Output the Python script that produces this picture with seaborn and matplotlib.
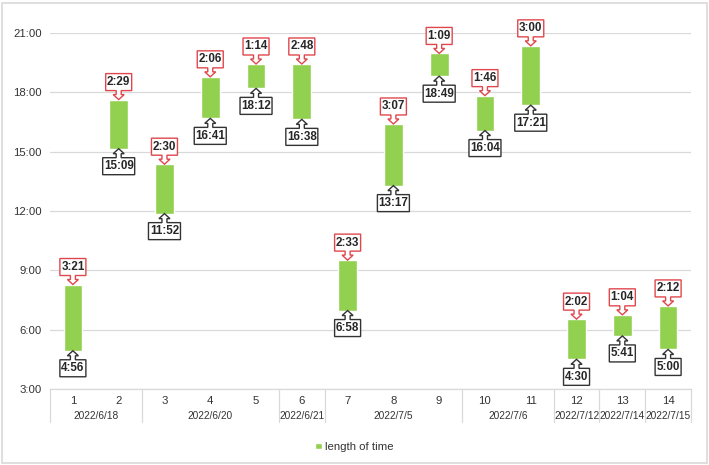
import matplotlib
matplotlib.use("Agg")
import numpy as np
import pandas as pd
import matplotlib.pyplot as plt
import matplotlib.transforms as mtransforms
from matplotlib.patches import Polygon, Patch, Rectangle
from matplotlib.ticker import FuncFormatter
import seaborn as sns

# ---------------------- DATA ----------------------
items = [str(i) for i in range(1, 15)]
start_times = ["4:56", "15:09", "11:52", "16:41", "18:12", "16:38", "6:58",
               "13:17", "18:49", "16:04", "17:21", "4:30", "5:41", "5:00"]
durations = ["3:21", "2:29", "2:30", "2:06", "1:14", "2:48", "2:33",
             "3:07", "1:09", "1:46", "3:00", "2:02", "1:04", "2:12"]
# date groups: (label, first item index, last item index)
date_groups = [("2022/6/18", 0, 1), ("2022/6/20", 2, 4), ("2022/6/21", 5, 5),
               ("2022/7/5", 6, 8), ("2022/7/6", 9, 10), ("2022/7/12", 11, 11),
               ("2022/7/14", 12, 12), ("2022/7/15", 13, 13)]
# --------------------------------------------------


def to_hours(s):
    h, m = s.split(":")
    return int(h) + int(m) / 60


df = pd.DataFrame({
    "item": items,
    "start": [to_hours(s) for s in start_times],
    "duration": [to_hours(s) for s in durations],
})

GREEN = "#92D050"
RED = "#E0474C"
DARK = "#333333"
GRID = "#D9D9D9"

sns.set_theme(style="white")
plt.rcParams["font.family"] = ["Liberation Sans", "DejaVu Sans"]

fig = plt.figure(figsize=(7.09, 4.65), dpi=100)
ax = fig.add_axes([50 / 709, 1 - 389 / 465, 641 / 709, 356 / 465])

sns.barplot(data=df, x="item", y="duration", order=items, bottom=df["start"].values,
            color=GREEN, saturation=1, width=0.41, errorbar=None, ax=ax, zorder=3)

ax.set_ylim(3, 21)
ax.set_xlim(-0.5, 13.5)
ax.set_yticks(np.arange(3, 22, 3))
ax.yaxis.set_major_formatter(FuncFormatter(lambda v, p: f"{int(v)}:00"))
ax.grid(axis="y", color=GRID, linewidth=0.9, zorder=0)
ax.set_axisbelow(True)
for side in ["top", "right", "left"]:
    ax.spines[side].set_visible(False)
ax.spines["bottom"].set_color(GRID)
ax.spines["bottom"].set_linewidth(0.9)
ax.tick_params(axis="both", length=0, labelsize=8.2, labelcolor=DARK)
ax.tick_params(axis="x", pad=5)
ax.tick_params(axis="y", pad=6)
ax.set_xlabel("")
ax.set_ylabel("")

# second level of the category axis
date_y = -(416 - 389) / 356
for label, a, b in date_groups:
    ax.text((a + b) / 2, date_y, label, transform=ax.get_xaxis_transform(),
            ha="center", va="center", fontsize=7.3, color=DARK)
sep_bottom = -(422 - 389) / 356
seps = [-0.5] + [b + 0.5 for _, a, b in date_groups]
for x in seps:
    ax.plot([x, x], [0, sep_bottom], transform=ax.get_xaxis_transform(),
            color=GRID, linewidth=0.9, clip_on=False)


# callouts
def callout(x, y, text, up, color):
    w = 26 if len(text) == 4 else 32
    h = 17
    gap = 9
    sw, hw, hl = 2.5, 5.5, 5
    pts = [(0, 0), (hw, hl), (sw, hl), (sw, gap), (w / 2, gap), (w / 2, gap + h),
           (-w / 2, gap + h), (-w / 2, gap), (-sw, gap), (-sw, hl), (-hw, hl)]
    sgn = 1 if up else -1
    pts = [(px / 100, sgn * py / 100) for px, py in pts]
    trans = fig.dpi_scale_trans + mtransforms.ScaledTranslation(x, y, ax.transData)
    ax.add_patch(Polygon(pts, closed=True, facecolor="white", edgecolor=color,
                         linewidth=1.0, transform=trans, zorder=4, clip_on=False))
    ax.text(0, sgn * (gap + h / 2) / 100, text, transform=trans, ha="center",
            va="center", fontsize=8.4, fontweight="bold", color="#262626", zorder=5)


for i, row in df.iterrows():
    callout(i, row["start"] + row["duration"], durations[i], True, RED)
    callout(i, row["start"], start_times[i], False, DARK)

fig.legend(handles=[Patch(facecolor=GREEN, label="length of time")],
           loc="center", bbox_to_anchor=(0.5, 1 - 447 / 465), frameon=False,
           fontsize=8.2, handlelength=0.55, handleheight=0.55, handletextpad=0.3,
           labelcolor=DARK)

fig.patches.append(Rectangle((0.003, 0.004), 0.994, 0.99, transform=fig.transFigure,
                             fill=False, edgecolor=GRID, linewidth=1.2))

fig.savefig("out.png", dpi=100)
